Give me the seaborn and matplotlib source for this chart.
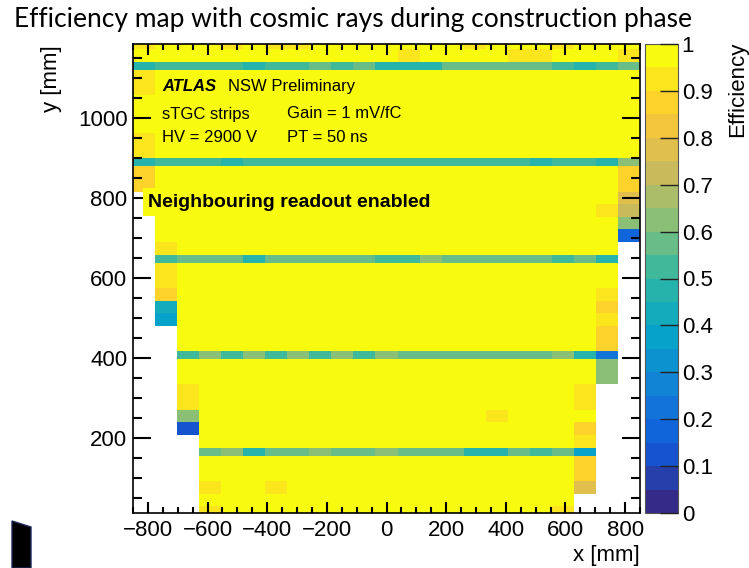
import numpy as np
import matplotlib
matplotlib.use("Agg")
import matplotlib.pyplot as plt
import seaborn as sns
from matplotlib.colors import ListedColormap, BoundaryNorm
from matplotlib.ticker import MultipleLocator
from matplotlib.patches import Polygon

sns.set_theme(style="ticks", rc={"xtick.direction": "in", "ytick.direction": "in",
                                 "xtick.top": True, "ytick.right": True,
                                 "xtick.bottom": True, "ytick.left": True,
                                 "axes.axisbelow": False})
plt.rcParams["font.family"] = ["Liberation Sans", "DejaVu Sans"]
plt.rcParams.update({"text.color": "black", "axes.labelcolor": "black",
                     "xtick.color": "black", "ytick.color": "black"})

# ---- histogram binning (mm) ----
x_edges = [-850.0, -776.1, -702.2, -628.3, -554.3, -480.4, -406.5, -332.6,
           -258.7, -184.8, -110.9, -37.0, 37.0, 110.9, 184.8, 258.7, 332.6,
           406.5, 480.4, 554.3, 628.3, 702.2, 776.1, 850.0]
y_edges = [-1.5, 30.1, 61.7, 93.3, 124.9, 156.5, 176.5, 208.1, 239.7, 271.3,
           302.9, 334.5, 366.1, 397.7, 417.7, 449.3, 480.9, 512.5, 544.1,
           575.7, 607.3, 638.9, 658.9, 690.5, 722.1, 753.7, 785.3, 816.9,
           848.5, 880.1, 900.1, 931.7, 963.3, 994.9, 1026.5, 1058.1, 1089.7,
           1121.3, 1141.3, 1172.9, 1204.5]

# active strip columns per row (trapezoidal quadruplet shape)
first_col = [3, 3, 3, 3, 3, 3, 3, 2, 2, 2, 2, 2, 2, 2, 2, 2,
             1, 1, 1, 1, 1, 1, 1, 1, 1, 1, 1,
             0, 0, 0, 0, 0, 0, 0, 0, 0, 0, 0, 0, 0]
last_col = [19, 19, 20, 20, 20, 20, 20, 20, 20, 20, 20,
            21, 21, 21, 21, 21, 21, 21, 21, 21, 21, 21, 21,
            22, 22, 22, 22, 22, 22, 22, 22, 22, 22, 22, 22, 22, 22, 22, 22, 22]

bulk_eff = 0.98
nan = np.nan

# efficiency in the board-boundary rows
band_rows = [5, 13, 21, 29, 37]
band_E = [nan, nan, nan, 0.56, 0.61, 0.46, 0.56, 0.56, 0.61, 0.56, 0.56, 0.61,
          0.56, 0.56, 0.56, 0.47, 0.47, 0.56, 0.50, 0.56, 0.36, nan, nan]
band_D = [nan, nan, 0.52, 0.61, 0.52, 0.61, 0.52, 0.61, 0.52, 0.61, 0.52, 0.61,
          0.56, 0.56, 0.56, 0.56, 0.56, 0.56, 0.56, 0.61, 0.47, 0.20, nan]
band_C = [nan, 0.50, 0.56, 0.56, 0.56, 0.48, 0.56, 0.56, 0.56, 0.56, 0.56, 0.50,
          0.50, 0.61, 0.56, 0.56, 0.56, 0.56, 0.56, 0.50, 0.56, 0.46, nan]
band_B = [0.45, 0.50, 0.50, 0.50, 0.45, 0.50, 0.50, 0.50, 0.50, 0.50, 0.50, 0.50,
          0.50, 0.50, 0.50, 0.50, 0.50, 0.50, 0.45, 0.50, 0.50, 0.45, 0.62]
band_A = [0.45, 0.50, 0.50, 0.50, 0.50, 0.45, 0.50, 0.50, 0.56, 0.50, 0.56, 0.47,
          0.47, 0.47, 0.56, 0.56, 0.56, 0.56, 0.56, 0.50, 0.45, 0.50, 0.56]
band_values = [band_E, band_D, band_C, band_B, band_A]

# individual cells below full efficiency
cell_rows = [27, 28, 30, 31, 35, 36, 39,
             16, 17, 18, 19, 20, 22,
             7, 8, 9, 10,
             23, 24, 25, 26, 27, 28,
             11, 12, 14, 15, 16, 17, 18, 25,
             2, 3, 4, 6, 7, 9, 10,
             0, 0, 2, 2, 8,
             38, 38, 38, 38, 39, 39, 39, 39, 39]
cell_cols = [0, 0, 0, 0, 0, 0, 0,
             1, 1, 1, 1, 1, 1,
             2, 2, 2, 2,
             22, 22, 22, 22, 22, 22,
             21, 21, 21, 21, 21, 21, 21, 21,
             20, 20, 20, 20, 20, 20, 20,
             19, 3, 3, 6, 16,
             12, 17, 18, 22, 4, 6, 7, 15, 19]
cell_vals = [0.87, 0.87, 0.93, 0.93, 0.93, 0.93, 0.90,
             0.37, 0.42, 0.86, 0.93, 0.93, 0.93,
             0.15, 0.62, 0.93, 0.93,
             0.18, 0.62, 0.72, 0.78, 0.86, 0.88,
             0.62, 0.62, 0.88, 0.88, 0.92, 0.89, 0.93, 0.92,
             0.77, 0.88, 0.88, 0.93, 0.89, 0.93, 0.93,
             0.93, 0.93, 0.93, 0.93, 0.93,
             0.93, 0.93, 0.93, 0.93, 0.92, 0.93, 0.93, 0.92, 0.92]

cbar_ticks = [0, 0.1, 0.2, 0.3, 0.4, 0.5, 0.6, 0.7, 0.8, 0.9, 1.0]
cbar_labels = ["0", "0.1", "0.2", "0.3", "0.4", "0.5", "0.6", "0.7", "0.8", "0.9", "1"]
x_ticks = [-800, -600, -400, -200, 0, 200, 400, 600, 800]
y_ticks = [200, 400, 600, 800, 1000]

# ---- assemble the efficiency map ----
n_rows, n_cols = len(y_edges) - 1, len(x_edges) - 1
eff = np.full((n_rows, n_cols), np.nan)
for r in range(n_rows):
    eff[r, first_col[r]:last_col[r] + 1] = bulk_eff
for r, vals in zip(band_rows, band_values):
    eff[r, :] = vals
for r, c, v in zip(cell_rows, cell_cols, cell_vals):
    eff[r, c] = v

# ROOT "bird" palette, 20 contour levels
bird = [(0.2082, 0.1664, 0.5293), (0.0592, 0.3599, 0.8684), (0.0780, 0.5041, 0.8385),
        (0.0232, 0.6419, 0.7914), (0.1802, 0.7178, 0.6425), (0.5301, 0.7492, 0.4662),
        (0.8186, 0.7328, 0.3499), (0.9956, 0.7862, 0.1968), (0.9764, 0.9832, 0.0539)]
cmap = ListedColormap(sns.blend_palette(bird, n_colors=20))
norm = BoundaryNorm(np.linspace(0, 1, 21), 20)

W, H = 749, 568
fig = plt.figure(figsize=(W / 100, H / 100), dpi=100)
fig.patch.set_facecolor("white")


def fx(x):
    return x / W


def fy(y):
    return 1 - y / H


ax = fig.add_axes([fx(133), fy(513), fx(640) - fx(133), fy(44) - fy(513)])
ax.set_facecolor("white")
ax.set_axisbelow(False)
mesh = ax.pcolormesh(x_edges, y_edges, np.ma.masked_invalid(eff), cmap=cmap, norm=norm,
                     zorder=0.2)
ax.set_xlim(-850, 850)
ax.set_ylim(13, 1186)
ax.set_xticks(x_ticks)
ax.set_yticks(y_ticks)
ax.xaxis.set_minor_locator(MultipleLocator(50))
ax.yaxis.set_minor_locator(MultipleLocator(50))
ax.tick_params(axis="both", which="both", direction="in", top=True, right=True,
               bottom=True, left=True, color="black", width=1.5,
               labelsize=16, labelcolor="black")
ax.tick_params(axis="x", which="major", length=8, pad=5)
ax.tick_params(axis="x", which="minor", length=4.3)
ax.tick_params(axis="y", which="major", length=13, pad=4)
ax.tick_params(axis="y", which="minor", length=6.5)
for s in ax.spines.values():
    s.set_color("black")
    s.set_linewidth(1.2)

# colour scale
cax = fig.add_axes([fx(645), fy(513), fx(677.5) - fx(645), fy(44) - fy(513)])
cb = fig.colorbar(mesh, cax=cax, ticks=cbar_ticks)
cb.set_ticklabels(cbar_labels)
cb.outline.set_linewidth(0.8)
cb.outline.set_edgecolor("#555555")
cax.minorticks_off()
cax.tick_params(axis="y", which="major", direction="in", length=13, width=1.0,
                color="#222222", labelsize=16, labelcolor="black", pad=3,
                right=True, left=False, labelright=True, labelleft=False)
cax.tick_params(axis="x", bottom=False, top=False)

# titles and labels
fig.text(fx(14), fy(20), "Efficiency map with cosmic rays during construction phase",
         family=["Lato", "DejaVu Sans"], fontsize=19.0, va="center", ha="left")
fig.text(fx(52), fy(45), "y [mm]", rotation=90, fontsize=16, va="top", ha="center")
fig.text(fx(640), fy(555), "x [mm]", fontsize=16, va="center", ha="right")
fig.text(fx(738), fy(42), "Efficiency", rotation=90, fontsize=16, va="top", ha="center")

# labels inside the frame
fig.text(fx(162), fy(91), "ATLAS", fontsize=12, weight="bold", style="italic", va="baseline")
fig.text(fx(228), fy(91), "NSW Preliminary", fontsize=12, va="baseline")
fig.text(fx(162), fy(118.5), "sTGC strips", fontsize=12, va="baseline")
fig.text(fx(287), fy(118.5), "Gain = 1 mV/fC", fontsize=12, va="baseline")
fig.text(fx(162), fy(141.5), "HV = 2900 V", fontsize=12, va="baseline")
fig.text(fx(287), fy(141.5), "PT = 50 ns", fontsize=12, va="baseline")
fig.text(fx(148), fy(202), "Neighbouring readout enabled", fontsize=14, weight="bold",
         va="center", ha="left",
         bbox=dict(boxstyle="square,pad=0.28", facecolor=cmap(19), edgecolor="none"))

# slide edge element in the lower-left corner
fig.patches.append(Polygon([(fx(12), fy(521)), (fx(31), fy(527)), (fx(31), fy(568)),
                            (fx(12), fy(568))], closed=True, transform=fig.transFigure,
                           facecolor="black", edgecolor="#1a2a5a", linewidth=1))

fig.savefig("out.png", dpi=100)
